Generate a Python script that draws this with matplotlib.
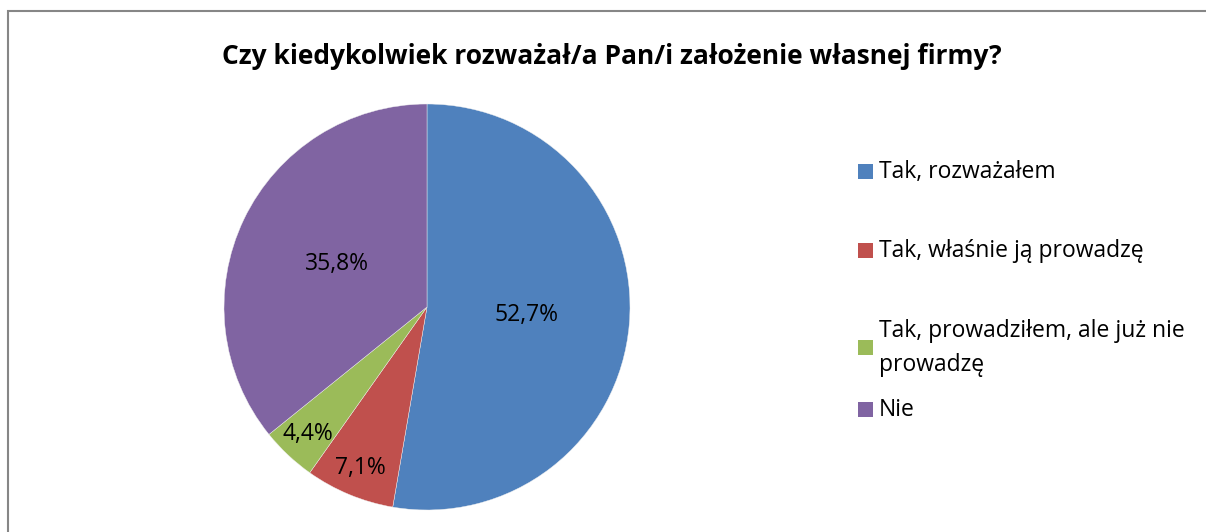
import numpy as np
import matplotlib
matplotlib.use('Agg')
from matplotlib import pyplot as plt
from matplotlib.patches import Rectangle

plt.rcParams['font.family'] = ['Open Sans', 'DejaVu Sans']

# data
title = 'Czy kiedykolwiek rozważał/a Pan/i założenie własnej firmy?'
categories = ['Tak, rozważałem', 'Tak, właśnie ją prowadzę',
              'Tak, prowadziłem, ale już nie\nprowadzę', 'Nie']
shares = [52.7, 7.1, 4.4, 35.8]
colors = ['#4F81BD', '#C0504D', '#9BBB59', '#8064A2']

W, H = 1206, 532
fig = plt.figure(figsize=(W / 100, H / 100), dpi=100)

# chart area border (runs off the right and bottom edge)
fig.patches.append(Rectangle((8 / W, -0.05), 1.2, (H - 11) / H + 0.05,
                             transform=fig.transFigure, fill=False,
                             edgecolor='#868686', linewidth=1.5))

fig.text(612 / W, 1 - 56 / H, title, ha='center', va='center',
         fontsize=19, fontweight='bold', color='black')

# pie: center (427, 307), radius 203 px
cx, cy, r = 427, 307, 203
ax = fig.add_axes([(cx - r) / W, (H - cy - r) / H, 2 * r / W, 2 * r / H])
wedges, texts, autotexts = ax.pie(
    shares, colors=colors, startangle=90, counterclock=False,
    autopct=lambda p: ('%.1f%%' % p).replace('.', ','), pctdistance=0.49,
    wedgeprops=dict(edgecolor='#f0f0f0', linewidth=0.3),
    textprops=dict(fontsize=16.5, color='black'))
ax.set_xlim(-1, 1)
ax.set_ylim(-1, 1)
ax.set_aspect('equal')

# small slices get their labels near the rim
for w, t in zip(wedges, autotexts):
    frac = (w.theta2 - w.theta1) / 360.0
    if frac < 0.1:
        ang = np.deg2rad((w.theta1 + w.theta2) / 2)
        t.set_position((0.86 * np.cos(ang), 0.86 * np.sin(ang)))

# legend drawn by hand, Excel style spacing
legend_y = [172, 251, 348, 410]
for lab, col, y in zip(categories, colors, legend_y):
    fig.patches.append(Rectangle((858 / W, 1 - (y + 7) / H), 15 / W, 15 / H,
                                 transform=fig.transFigure, facecolor=col,
                                 edgecolor='none'))
    fig.text(879 / W, 1 - y / H, lab, ha='left', va='center', fontsize=16.5,
             color='black', linespacing=1.6)

fig.savefig('out.png', dpi=100)
